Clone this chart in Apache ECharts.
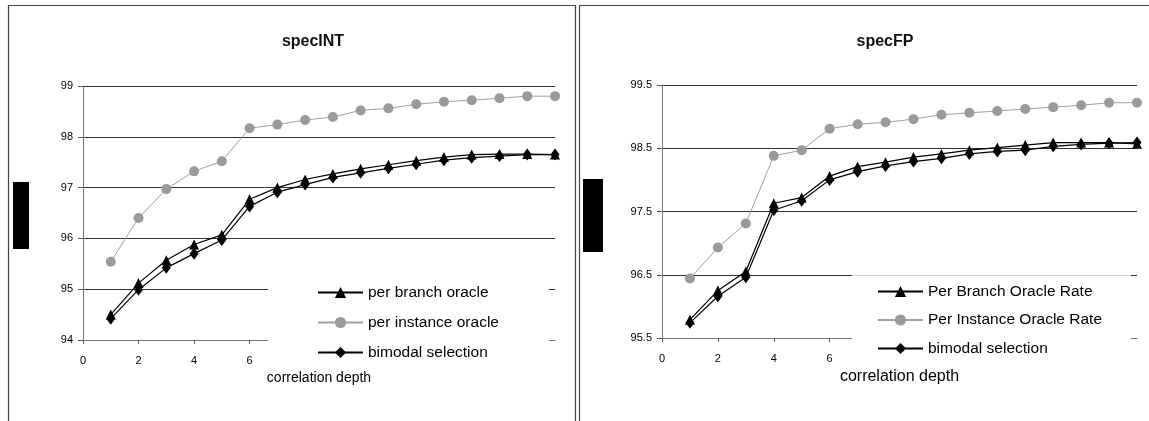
<!DOCTYPE html>
<html>
<head>
<meta charset="utf-8">
<title>specINT / specFP</title>
<script src="https://cdn.jsdelivr.net/npm/echarts@6/dist/echarts.min.js"></script>
<style>
  html, body { margin: 0; padding: 0; background: #fff; }
  #chart { width: 1149px; height: 421px; }
</style>
</head>
<body>
<div id="chart"></div>
<script>
// correlation depth (x) shared by both panels
const depth = [1, 2, 3, 4, 5, 6, 7, 8, 9, 10, 11, 12, 13, 14, 15, 16, 17];
const depthRange = [0, 17];
const depthStep = 2;

// specINT panel
const intTitle = 'specINT';
const intNames = ['per branch oracle', 'per instance oracle', 'bimodal selection'];
const intBranch   = [94.50, 95.12, 95.57, 95.88, 96.07, 96.77, 97.00, 97.16, 97.27, 97.37, 97.45, 97.53, 97.60, 97.65, 97.66, 97.66, 97.65];
const intInstance = [95.54, 96.40, 96.97, 97.32, 97.52, 98.17, 98.24, 98.33, 98.39, 98.52, 98.56, 98.64, 98.69, 98.72, 98.76, 98.80, 98.80];
const intBimodal  = [94.42, 94.99, 95.42, 95.70, 95.97, 96.63, 96.91, 97.06, 97.20, 97.29, 97.38, 97.46, 97.54, 97.59, 97.62, 97.65, 97.65];
const intYRange = [94, 99];

// specFP panel
const fpTitle = 'specFP';
const fpNames = ['Per Branch Oracle Rate', 'Per Instance Oracle Rate', 'bimodal selection'];
const fpBranch   = [95.79, 96.25, 96.55, 97.63, 97.72, 98.06, 98.21, 98.28, 98.36, 98.41, 98.47, 98.51, 98.55, 98.59, 98.59, 98.59, 98.57];
const fpInstance = [96.44, 96.93, 97.31, 98.38, 98.47, 98.81, 98.88, 98.91, 98.96, 99.03, 99.06, 99.09, 99.12, 99.15, 99.18, 99.22, 99.22];
const fpBimodal  = [95.74, 96.16, 96.46, 97.52, 97.67, 98.00, 98.13, 98.22, 98.29, 98.34, 98.41, 98.45, 98.47, 98.53, 98.56, 98.58, 98.59];
const fpYRange = [95.5, 99.5];
const yStep = 1;

const xName = 'correlation depth';
const FONT = '"Liberation Sans", Arial, sans-serif';

const pairs = (ys) => depth.map((d, i) => [d, ys[i]]);

function xAxisFor(gridIndex, nameSize, nameGap) {
  return {
    gridIndex,
    type: 'value',
    min: depthRange[0], max: depthRange[1], interval: depthStep,
    axisLine: { show: true, lineStyle: { color: '#777', width: 1 } },
    axisTick: { show: true, length: 4, lineStyle: { color: '#555' } },
    splitLine: { show: false },
    axisLabel: { color: '#000', fontSize: 11, fontFamily: FONT, margin: 15, showMaxLabel: false },
    name: xName, nameLocation: 'middle', nameGap,
    nameTextStyle: { color: '#000', fontSize: nameSize, fontFamily: FONT }
  };
}

function yAxisFor(gridIndex, range) {
  return {
    gridIndex,
    type: 'value',
    min: range[0], max: range[1], interval: yStep,
    axisLine: { show: true, lineStyle: { color: '#777', width: 1 } },
    axisTick: { show: true, length: 5, lineStyle: { color: '#555' } },
    splitLine: { show: true, lineStyle: { color: '#333', width: 1 } },
    axisLabel: { color: '#000', fontSize: 11, fontFamily: FONT, margin: 10 }
  };
}

function seriesSet(names, branch, instance, bimodal, axisIndex) {
  return [
    {
      name: names[0], type: 'line', xAxisIndex: axisIndex, yAxisIndex: axisIndex,
      data: pairs(branch), symbol: 'triangle', symbolSize: 10,
      lineStyle: { color: '#000', width: 1.2 }, itemStyle: { color: '#000' }, z: 3
    },
    {
      name: names[1], type: 'line', xAxisIndex: axisIndex, yAxisIndex: axisIndex,
      data: pairs(instance), symbol: 'circle', symbolSize: 10,
      lineStyle: { color: '#a0a0a0', width: 1 }, itemStyle: { color: '#9a9a9a' }, z: 2
    },
    {
      name: names[2], type: 'line', xAxisIndex: axisIndex, yAxisIndex: axisIndex,
      data: pairs(bimodal), symbol: 'diamond', symbolSize: [9, 12],
      lineStyle: { color: '#000', width: 1.2 }, itemStyle: { color: '#000' }, z: 3
    }
  ];
}

function legendFor(names, left, top, gap, size) {
  return {
    data: names, orient: 'vertical', left, top, padding: 0,
    itemWidth: 45, itemHeight: 14, itemGap: gap,
    selectedMode: false,
    textStyle: { color: '#000', fontSize: size, fontFamily: FONT, lineHeight: 15 }
  };
}

const chart = echarts.init(document.getElementById('chart'), null, { renderer: 'canvas' });

chart.setOption({
  backgroundColor: '#fff',
  animation: false,
  grid: [
    { left: 83, top: 86, width: 472, height: 254 },
    { left: 662, top: 85, width: 475, height: 253 }
  ],
  xAxis: [xAxisFor(0, 14, 30), xAxisFor(1, 16, 27)],
  yAxis: [yAxisFor(0, intYRange), yAxisFor(1, fpYRange)],
  legend: [
    legendFor(intNames, 317, 284.5, 14, 15.5),
    legendFor(fpNames, 877, 283.5, 12.5, 15.5)
  ],
  series: [
    ...seriesSet(intNames, intBranch, intInstance, intBimodal, 0),
    ...seriesSet(fpNames, fpBranch, fpInstance, fpBimodal, 1)
  ],
  graphic: [
    // panel frames
    { type: 'rect', z: 10, silent: true, shape: { x: 8.5, y: 5.5, width: 567, height: 500 },
      style: { fill: 'none', stroke: '#444', lineWidth: 1.2 } },
    { type: 'rect', z: 10, silent: true, shape: { x: 579.5, y: 5.5, width: 600, height: 500 },
      style: { fill: 'none', stroke: '#444', lineWidth: 1.2 } },
    // panel titles
    { type: 'text', z: 10, silent: true, style: { x: 313, y: 42, text: intTitle, align: 'center', verticalAlign: 'middle',
      fill: '#111', font: 'bold 16px ' + FONT } },
    { type: 'text', z: 10, silent: true, style: { x: 885, y: 42, text: fpTitle, align: 'center', verticalAlign: 'middle',
      fill: '#111', font: 'bold 16px ' + FONT } },
    // solid blocks in place of the vertical axis titles
    { type: 'rect', z: 10, silent: true, shape: { x: 13, y: 182, width: 16, height: 67 }, style: { fill: '#000' } },
    { type: 'rect', z: 10, silent: true, shape: { x: 583, y: 179, width: 20, height: 73 }, style: { fill: '#000' } },
    // white legend panels laid over the lower part of each plot
    { type: 'rect', z: 1, silent: true, shape: { x: 268, y: 278, width: 281, height: 91 }, style: { fill: '#fff' } },
    { type: 'rect', z: 1, silent: true, shape: { x: 852, y: 274, width: 279, height: 91 }, style: { fill: '#fff' } },
    { type: 'line', z: 1, silent: true, shape: { x1: 852, y1: 275.5, x2: 1131, y2: 275.5 }, style: { stroke: '#cfcfcf', lineWidth: 1 } }
  ]
});
</script>
</body>
</html>
